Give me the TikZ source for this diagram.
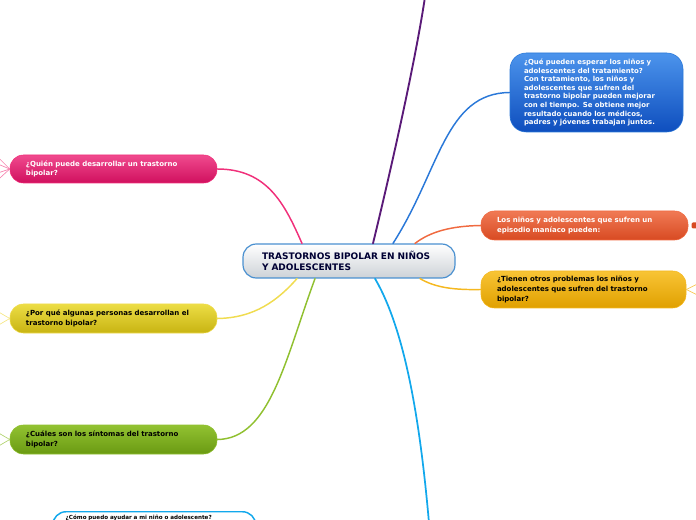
\documentclass[tikz,border=0pt]{standalone}
\usepackage{fontspec}
\setmainfont{DejaVu Sans}
\usepackage{tikz}
\usetikzlibrary{calc}
\newdimen\pxu
\pxu=0.75pt
\definecolor{rootline}{HTML}{4A90D0}
\definecolor{rootbot}{HTML}{CDD2D7}
\definecolor{purpleln}{HTML}{5A1A78}
\definecolor{blueln}{HTML}{2A78D8}
\definecolor{orangeln}{HTML}{F06A40}
\definecolor{goldln}{HTML}{F5B820}
\definecolor{pinkln}{HTML}{F0307A}
\definecolor{yellowln}{HTML}{F0DC50}
\definecolor{greenln}{HTML}{90C030}
\definecolor{cyanln}{HTML}{12A8EC}
\definecolor{bluetop}{HTML}{4C94EC}
\definecolor{bluebot}{HTML}{0E4EBE}
\definecolor{orangetop}{HTML}{F07A55}
\definecolor{orangebot}{HTML}{D84A22}
\definecolor{goldtop}{HTML}{F8C435}
\definecolor{goldbot}{HTML}{E0A000}
\definecolor{pinktop}{HTML}{F04A8E}
\definecolor{pinkbot}{HTML}{D0105E}
\definecolor{yellowtop}{HTML}{ECDD45}
\definecolor{yellowbot}{HTML}{C8B412}
\definecolor{greentop}{HTML}{92C232}
\definecolor{greenbot}{HTML}{6A9A12}

\begin{document}
\begin{tikzpicture}[x=0.75pt,y=-0.75pt,
  bubble/.style={rounded corners=10pt,align=left,inner ysep=0pt,
                 inner xsep=16\pxu,font=\fontsize{5.25}{7.3}\selectfont\bfseries},
  root/.style={bubble,draw=rootline,line width=0.9pt,top color=white,
               bottom color=rootbot,inner xsep=19\pxu,minimum height=34\pxu,
               font=\fontsize{6.75}{8.2}\selectfont\bfseries,text=blue!20!black},
  link/.style={line width=1.1pt,line cap=round}]
  \clip (0,0) rectangle (696,520);

  \node[root,text width=174\pxu] (tbp) at (349,261)
    {TRASTORNOS BIPOLAR EN NIÑOS\\Y ADOLESCENTES};

  % right side
  \node[bubble,rounded corners=12pt,top color=bluetop,bottom color=bluebot,
        draw=blueln,text=white,inner xsep=14\pxu,text width=145\pxu,
        minimum height=79\pxu,font=\fontsize{5.2}{6.45}\selectfont\bfseries] (trat) at (596.5,92.5)
    {¿Qué pueden esperar los niños y\\adolescentes del tratamiento?\\Con tratamiento, los niños y\\adolescentes que sufren del\\trastorno bipolar pueden mejorar\\con el tiempo. Se obtiene mejor\\resultado cuando los médicos,\\padres y jóvenes trabajan juntos.};
  \node[bubble,top color=orangetop,bottom color=orangebot,
        draw=orangeln,text=white,text width=175\pxu,minimum height=29\pxu] (mania) at (584.5,225.5)
    {Los niños y adolescentes que sufren un\\episodio maníaco pueden:};
  \node[bubble,top color=goldtop,bottom color=goldbot,
        draw=goldln,text=black,text width=173\pxu,minimum height=37\pxu] (otros) at (583.5,289.5)
    {¿Tienen otros problemas los niños y\\adolescentes que sufren del trastorno\\bipolar?};

  % left side
  \node[bubble,top color=pinktop,bottom color=pinkbot,
        draw=pinkln,text=white,text width=175\pxu,minimum height=28\pxu] (quien) at (113.5,169)
    {¿Quién puede desarrollar un trastorno\\bipolar?};
  \node[bubble,top color=yellowtop,bottom color=yellowbot,
        draw=yellowln,text=black,text width=175\pxu,minimum height=29\pxu] (porque) at (113.5,318.5)
    {¿Por qué algunas personas desarrollan el\\trastorno bipolar?};
  \node[bubble,top color=greentop,bottom color=greenbot,
        draw=greenln,text=black,text width=175\pxu,minimum height=29\pxu] (sintomas) at (113.5,439.5)
    {¿Cuáles son los síntomas del trastorno\\bipolar?};
  \node[bubble,anchor=north west,draw=cyanln,line width=1.1pt,fill=white,text=black,
        inner xsep=13\pxu,inner ysep=3\pxu,text width=177\pxu,text depth=22\pxu,
        font=\fontsize{4.2}{6}\selectfont\bfseries] (ayudar) at (52,511)
    {¿Cómo puedo ayudar a mi niño o adolescente?};

  % free ends
  \coordinate (up) at (425,-3);
  \coordinate (down) at (429,523);

  % connectors
  \draw[link,purpleln,line width=1.4pt] ([xshift=24\pxu]tbp.north) .. controls (386,190) and (414,70) .. (up);
  \draw[link,blueln] ([xshift=44\pxu]tbp.north) .. controls (440,170) and (445,93) .. (trat.west);
  \draw[link,orangeln] ([xshift=66\pxu]tbp.north) .. controls (430,232) and (450,226) .. (mania.west);
  \draw[link,goldln] ([xshift=71\pxu]tbp.south) .. controls (436,288) and (455,290) .. (otros.west);
  \draw[link,pinkln] ([xshift=-47\pxu]tbp.north) .. controls (285,205) and (268,169) .. (quien.east);
  \draw[link,yellowln] ([xshift=-52\pxu]tbp.south) .. controls (278,300) and (255,318) .. (porque.east);
  \draw[link,greenln] ([xshift=-34\pxu]tbp.south) .. controls (285,360) and (270,439) .. (sintomas.east);
  \draw[link,cyanln,line width=1.3pt] ([xshift=26\pxu]tbp.south) .. controls (405,330) and (420,420) .. (down);

  % stubs to hidden children
  \foreach \dy in {-12,-5,4,11}
    \draw[pinkln!60,line width=0.5pt] (quien.west) -- ++(-12,\dy);
  \foreach \dy in {-7,7}
    \draw[yellowln!70,line width=0.5pt] (porque.west) -- ++(-12,\dy);
  \foreach \dy in {-7,7}
    \draw[greenln!70,line width=0.5pt] (sintomas.west) -- ++(-12,\dy);
  \foreach \dy in {-6,6}
    \draw[goldln!80,line width=0.5pt] (otros.east) -- ++(12,\dy);
  \node[fill=orangebot,rounded corners=1pt,minimum width=6\pxu,
        minimum height=6\pxu,inner sep=0pt,anchor=west] (manstub) at ([xshift=3\pxu]mania.east) {};
\end{tikzpicture}
\end{document}
